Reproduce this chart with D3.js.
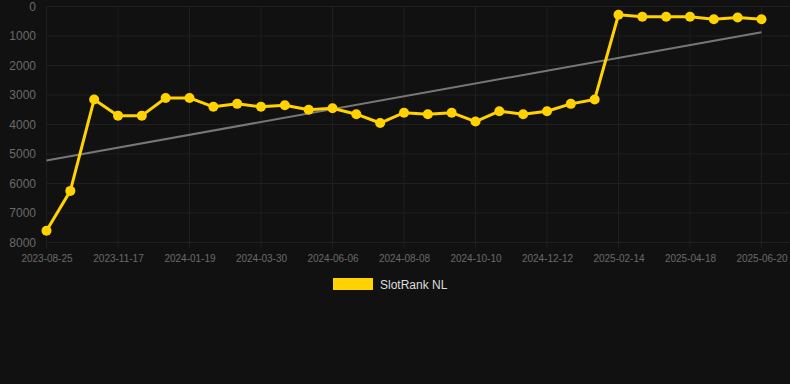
<!DOCTYPE html>
<html>
<head>
<meta charset="utf-8">
<script src="https://cdn.jsdelivr.net/npm/d3@7"></script>
<style>
  html, body { margin: 0; padding: 0; background: #111111; }
  svg { display: block; font-family: "Liberation Sans", Arial, sans-serif; }
</style>
</head>
<body>
<svg id="chart" width="790" height="384"></svg>
<script>
const categories = [
  "2023-08-25","2023-09-22","2023-10-20","2023-11-17","2023-12-08","2023-12-29",
  "2024-01-19","2024-02-09","2024-03-08","2024-03-30","2024-04-20","2024-05-15",
  "2024-06-06","2024-06-27","2024-07-18","2024-08-08","2024-08-29","2024-09-19",
  "2024-10-10","2024-10-31","2024-11-21","2024-12-12","2025-01-02","2025-01-23",
  "2025-02-14","2025-03-07","2025-03-28","2025-04-18","2025-05-09","2025-05-30",
  "2025-06-20"
];
const rankValues = [
  7600, 6250, 3150, 3700, 3700, 3100,
  3100, 3400, 3300, 3400, 3350, 3500,
  3450, 3650, 3950, 3600, 3650, 3600,
  3900, 3550, 3650, 3550, 3300, 3150,
  280, 350, 350, 350, 430, 370,
  430
];
const trendValues = [5220, 870]; // at first and last category
const yTicks = [0, 1000, 2000, 3000, 4000, 5000, 6000, 7000, 8000];
const xTickLabels = ["2023-08-25","2023-11-17","2024-01-19","2024-03-30","2024-06-06",
  "2024-08-08","2024-10-10","2024-12-12","2025-02-14","2025-04-18","2025-06-20"];
const seriesName = "SlotRank NL";

const svg = d3.select("#chart");
const W = 790;
const x = d3.scalePoint().domain(categories).range([46.5, 761.5]);
const y = d3.scaleLinear().domain([0, 8000]).range([6.5, 242.5]);

const gridColor = "#1f1f1f";
const textColor = "#6a6a6a";
const lineColor = "#ffd200";

// horizontal grid
svg.append("g").selectAll("line").data(yTicks).join("line")
  .attr("x1", 46.5).attr("x2", W)
  .attr("y1", d => y(d)).attr("y2", d => y(d))
  .attr("stroke", gridColor).attr("stroke-width", 1);

// vertical grid
svg.append("g").selectAll("line").data(xTickLabels).join("line")
  .attr("x1", d => x(d)).attr("x2", d => x(d))
  .attr("y1", y(0)).attr("y2", y(8000) + 6)
  .attr("stroke", gridColor).attr("stroke-width", 1);

// y axis labels
const yAxis = d3.axisLeft(y).tickValues(yTicks).tickSize(0).tickPadding(0).tickFormat(d3.format("d"));
const gy = svg.append("g").attr("transform", "translate(36,0)").call(yAxis);
gy.select(".domain").remove();
gy.selectAll("text").attr("fill", textColor).style("font-size", "12px")
  .style("font-family", "Liberation Sans, Arial, sans-serif");

// x axis labels
const xAxis = d3.axisBottom(x).tickValues(xTickLabels).tickSize(0).tickPadding(0);
const gx = svg.append("g").attr("transform", "translate(0,255)").call(xAxis);
gx.select(".domain").remove();
gx.selectAll("text").attr("fill", textColor).style("font-size", "10px")
  .style("font-family", "Liberation Sans, Arial, sans-serif");

// trend line
svg.append("line")
  .attr("x1", x(categories[0])).attr("y1", y(trendValues[0]))
  .attr("x2", x(categories[categories.length - 1])).attr("y2", y(trendValues[1]))
  .attr("stroke", "#777777").attr("stroke-width", 2);

// series line
const data = categories.map((c, i) => ({ c, v: rankValues[i] }));
svg.append("path").datum(data)
  .attr("fill", "none").attr("stroke", lineColor).attr("stroke-width", 3)
  .attr("stroke-linejoin", "round")
  .attr("d", d3.line().x(d => x(d.c)).y(d => y(d.v)));

svg.append("g").selectAll("circle").data(data).join("circle")
  .attr("cx", d => x(d.c)).attr("cy", d => y(d.v)).attr("r", 5)
  .attr("fill", lineColor);

// legend
svg.append("rect").attr("x", 333).attr("y", 278).attr("width", 40).attr("height", 12)
  .attr("fill", lineColor);
svg.append("text").attr("x", 380).attr("y", 288.5).text(seriesName)
  .attr("fill", "#dddddd").style("font-size", "12px");
</script>
</body>
</html>
